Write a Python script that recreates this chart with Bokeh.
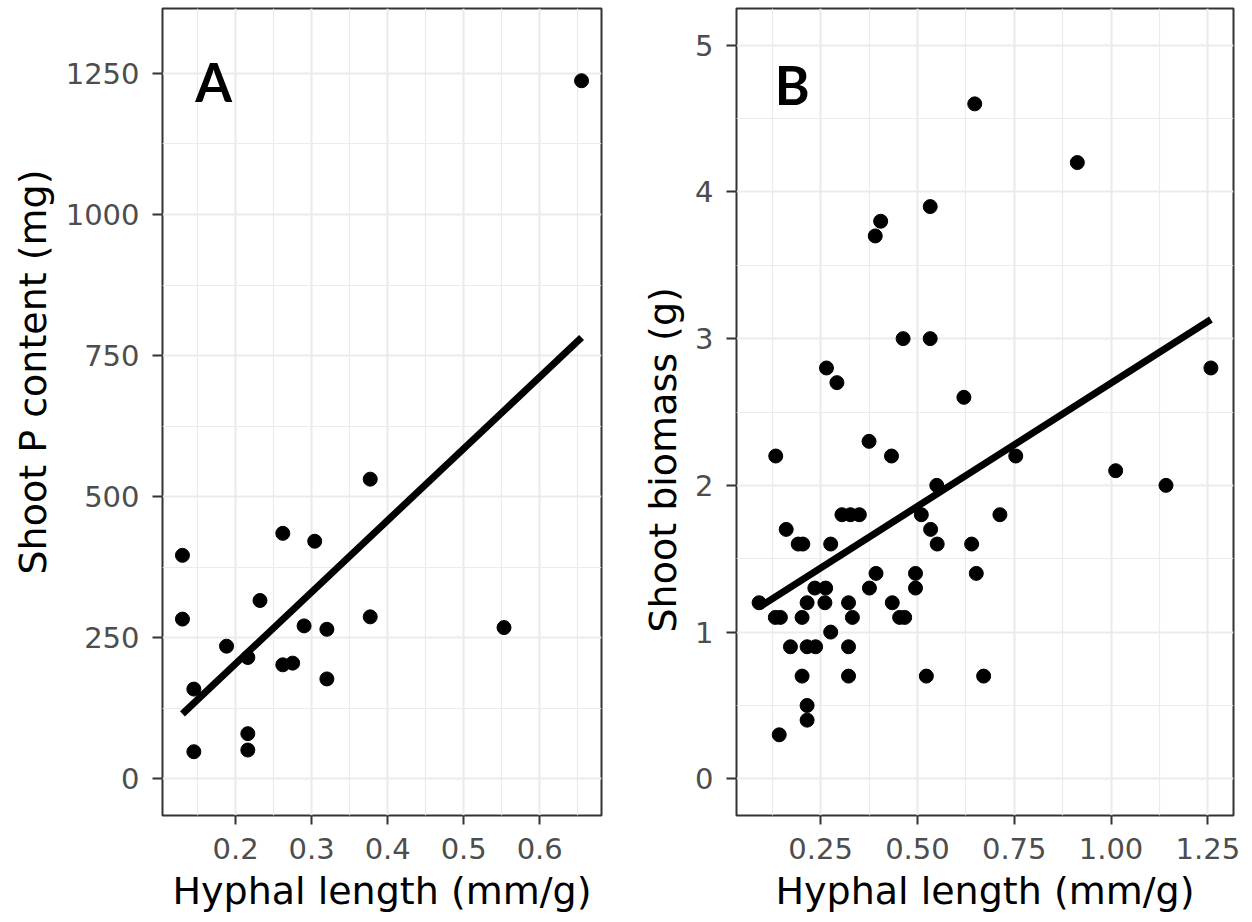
import math
from bokeh.plotting import figure
from bokeh.layouts import row
from bokeh.models import FixedTicker, NumeralTickFormatter, Label, Range1d, Title
from bokeh.embed import file_html
from bokeh.resources import INLINE

# ---------------- data: panel A ----------------
a_hyphal = [0.130, 0.130, 0.145, 0.145, 0.188, 0.216, 0.216, 0.216, 0.232, 0.262,
            0.262, 0.275, 0.290, 0.304, 0.320, 0.320, 0.377, 0.377, 0.553, 0.655]
a_shoot_p = [396, 283, 159, 48, 235, 215, 80, 51, 316, 435,
             202, 205, 271, 421, 265, 177, 531, 287, 268, 1237]
a_fit_x = [0.130, 0.655]
a_fit_y = [115, 782]
a_ylim = [0, 1300]
a_x_major = [0.2, 0.3, 0.4, 0.5, 0.6]
a_x_minor = [0.15, 0.25, 0.35, 0.45, 0.55, 0.65]
a_y_major = [0, 250, 500, 750, 1000, 1250]
a_y_minor = [125, 375, 625, 875, 1125]

# ---------------- data: panel B ----------------
b_hyphal = [0.091, 0.133, 0.146, 0.161, 0.192, 0.204, 0.172, 0.202, 0.215, 0.215,
            0.143, 0.202, 0.215, 0.215, 0.237, 0.235, 0.263, 0.261, 0.276, 0.276,
            0.322, 0.332, 0.322, 0.322, 0.305, 0.327, 0.350, 0.376, 0.393, 0.435,
            0.454, 0.467, 0.495, 0.495, 0.510, 0.523, 0.534, 0.551, 0.550, 0.640,
            0.652, 0.671, 0.713, 0.648, 0.913, 0.533, 0.405, 0.391, 0.463, 0.533,
            0.265, 0.292, 0.620, 1.258, 0.375, 0.134, 0.433, 0.754, 1.012, 1.142]
b_biomass = [1.2, 1.1, 1.1, 1.7, 1.6, 1.6, 0.9, 0.7, 0.5, 0.4,
             0.3, 1.1, 1.2, 0.9, 0.9, 1.3, 1.3, 1.2, 1.6, 1.0,
             1.2, 1.1, 0.9, 0.7, 1.8, 1.8, 1.8, 1.3, 1.4, 1.2,
             1.1, 1.1, 1.4, 1.3, 1.8, 0.7, 1.7, 1.6, 2.0, 1.6,
             1.4, 0.7, 1.8, 4.6, 4.2, 3.9, 3.8, 3.7, 3.0, 3.0,
             2.8, 2.7, 2.6, 2.8, 2.3, 2.2, 2.2, 2.2, 2.1, 2.0]
b_fit_x = [0.091, 1.258]
b_fit_y = [1.17, 3.13]
b_ylim = [0, 5]
b_x_major = [0.25, 0.50, 0.75, 1.00, 1.25]
b_x_minor = [0.125, 0.375, 0.625, 0.875, 1.125]
b_y_major = [0, 1, 2, 3, 4, 5]
b_y_minor = [0.5, 1.5, 2.5, 3.5, 4.5]

x_title = "Hyphal length (mm/g)"
a_y_title = "Shoot P content (mg)"
b_y_title = "Shoot biomass (g)"

FONT = "DejaVu Sans"
TICK_COL = "#4D4D4D"
DARK = "#333333"
GRID = "#EBEBEB"


def expand(lo, hi, f=0.05):
    d = (hi - lo) * f
    return lo - d, hi + d


def make_panel(xs, ys, fx, fy, ylim, xmaj, xmin, ymaj, ymin, xfmt,
               width, left, right, letter, letter_pos, ytitle, ytitle_offset, ytitle_standoff):
    x0, x1 = expand(min(xs), max(xs))
    y0, y1 = expand(ylim[0], ylim[1])
    p = figure(width=width, height=922, x_range=Range1d(x0, x1), y_range=Range1d(y0, y1),
               output_backend="svg", toolbar_location=None,
               min_border_left=left, min_border_right=right,
               min_border_top=8, min_border_bottom=107)
    p.background_fill_color = "white"
    p.border_fill_color = "white"
    p.outline_line_color = DARK
    p.outline_line_width = 2

    p.xaxis.ticker = FixedTicker(ticks=xmaj, minor_ticks=xmin)
    p.yaxis.ticker = FixedTicker(ticks=ymaj, minor_ticks=ymin)
    p.xaxis.formatter = NumeralTickFormatter(format=xfmt)
    p.yaxis.formatter = NumeralTickFormatter(format="0")

    for g in (p.xgrid, p.ygrid):
        g.grid_line_color = GRID
        g.grid_line_width = 2.2
        g.minor_grid_line_color = GRID
        g.minor_grid_line_width = 1.2

    for ax in (p.xaxis, p.yaxis):
        ax.axis_line_color = None
        ax.major_tick_line_color = DARK
        ax.major_tick_line_width = 2
        ax.major_tick_in = 0
        ax.minor_tick_line_color = None
        ax.major_label_text_font = FONT
        ax.major_label_text_font_size = "29px"
        ax.major_label_text_color = TICK_COL
    p.xaxis.major_tick_out = 9
    p.yaxis.major_tick_out = 10
    p.xaxis.major_label_standoff = 13
    p.yaxis.major_label_standoff = 13

    p.xaxis.axis_label = x_title
    p.xaxis.axis_label_text_font = FONT
    p.xaxis.axis_label_text_font_size = "38px"
    p.xaxis.axis_label_text_font_style = "normal"
    p.xaxis.axis_label_text_color = "black"
    p.xaxis.axis_label_standoff = 7

    p.scatter(xs, ys, size=14, color="black")
    p.line(fx, fy, line_width=7, color="black")

    p.add_layout(Label(x=letter_pos[0], y=letter_pos[1], text=letter,
                       text_font="Lato", text_font_size="53px", text_font_style="bold",
                       text_color="black", text_align="center", text_baseline="alphabetic"))
    p.add_layout(Title(text=ytitle, align="left", vertical_align="bottom",
                       offset=ytitle_offset, standoff=ytitle_standoff,
                       text_font=FONT, text_font_size="38px", text_font_style="normal",
                       text_color="black"), "left")
    return p


pA = make_panel(a_hyphal, a_shoot_p, a_fit_x, a_fit_y, a_ylim, a_x_major, a_x_minor,
                a_y_major, a_y_minor, "0.0", 620, 162, 19, "A", (0.171, 1236),
                a_y_title, 241, 16)
pB = make_panel(b_hyphal, b_biomass, b_fit_x, b_fit_y, b_ylim, b_x_major, b_x_minor,
                b_y_major, b_y_minor, "0.00", 632, 116, 19, "B", (0.1765, 4.734),
                b_y_title, 183, 16)

layout = row(pA, pB)
open("out.html", "w").write(file_html(layout, INLINE))
